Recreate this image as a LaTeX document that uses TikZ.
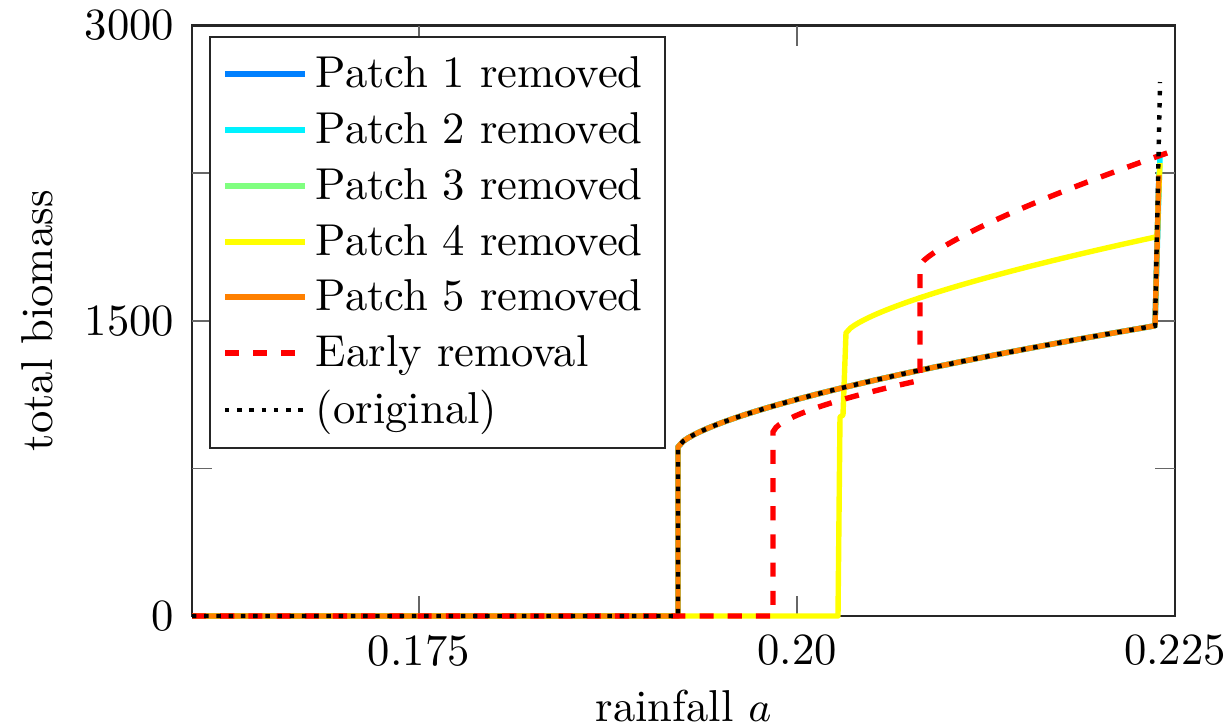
\documentclass[tikz,border=0pt]{standalone}
\definecolor{pblue}{rgb}{0,0.5,1}
\definecolor{pcyan}{rgb}{0,0.95,1}
\definecolor{pgreen}{rgb}{0.5,1,0.5}
\definecolor{pyellow}{rgb}{1,1,0}
\definecolor{porange}{rgb}{1,0.5,0}
\tikzset{
  curve/.style={line width=1.15pt, line join=round},
  earlycurve/.style={line width=1.15pt, red, dash pattern=on 3pt off 3pt},
  origcurve/.style={line width=0.95pt, black, dash pattern=on 0.95pt off 1.65pt},
  axisline/.style={line width=0.5pt, black!85},
  tickline/.style={line width=0.4pt, black!60},
  ticklabel/.style={inner sep=0pt},
  legendtext/.style={inner sep=0pt, anchor=base west},
}
\begin{document}
\begin{tikzpicture}[x=0.2128pt,y=-0.2128pt,font=\fontsize{9.5}{11.5}\selectfont]
\useasboundingbox (0,0) rectangle (1231,727);
% axis box
\draw[axisline] (192,25.5) rectangle (1175,616);
% ticks
\foreach \tx in {418.8,797} {
  \draw[tickline] (\tx,616) -- (\tx,596);
  \draw[tickline] (\tx,25.5) -- (\tx,45.5);
}
\foreach \ty in {173,320.75,468.5} {
  \draw[tickline] (192,\ty) -- (212,\ty);
  \draw[tickline] (1175,\ty) -- (1155,\ty);
}
% tick labels
\node[ticklabel, anchor=east] (y3000) at (175,25.5) {3000};
\node[ticklabel, anchor=east] (y1500) at (175,320.75) {1500};
\node[ticklabel, anchor=east] (y0) at (175,616) {0};
\node[ticklabel, anchor=north] (x175) at (418.8,634) {0.175};
\node[ticklabel, anchor=north] (x200) at (797,634) {0.20};
\node[ticklabel, anchor=north] (x225) at (1175,634) {0.225};
\node[inner sep=0pt, anchor=base] (xlab) at (683.5,721) {rainfall $a$};
\node[inner sep=0pt, anchor=base, rotate=90] (ylab) at (53,320.75) {total biomass};
% curves
\begin{scope}
\clip (190,15) rectangle (1180,623);
\draw[curve, pblue] (192,616) -- (678,616) -- (678,447) -- plot[domain=0.01:477,samples=90] ({678+\x},{447-1.91*\x^0.673}) -- (1159,172);
\draw[curve, pcyan] (192,616) -- (678,616) -- (678,447) -- plot[domain=0.01:477,samples=90] ({678+\x},{447-1.91*\x^0.673}) -- (1160,156);
\draw[curve, pgreen] (192,616) -- (678,616) -- (678,447) -- plot[domain=0.01:477,samples=90] ({678+\x},{447-1.91*\x^0.673}) -- (1159,172);
\draw[curve, pyellow] (192,616) -- (838,616) -- (840,417) -- (843,415) -- (846,333) -- plot[domain=0.01:311,samples=70] ({846+\x},{333-1.733*\x^0.7}) -- (1160,163);
\draw[curve, porange] (192,616) -- (678,616) -- (678,447) -- plot[domain=0.01:477,samples=90] ({678+\x},{447-1.91*\x^0.673}) -- (1159,175);
\draw[earlycurve] (192,616) -- (773,616) -- (773,432) -- plot[domain=0.01:147,samples=50] ({773+\x},{432-2.34*\x^0.62}) -- (920,265) -- plot[domain=0.01:255,samples=70] ({920+\x},{265-1.61*\x^0.77});
\draw[origcurve] (192,616) -- (678,616) -- (678,447) -- plot[domain=0.01:477,samples=90] ({678+\x},{447-1.91*\x^0.673}) -- (1160,82);
\end{scope}
% legend
\draw[axisline, fill=white] (210,37) rectangle (665,448);
\foreach \ly/\col/\txt/\nm in {74/pblue/Patch 1 removed/l1, 130/pcyan/Patch 2 removed/l2, 186/pgreen/Patch 3 removed/l3, 242/pyellow/Patch 4 removed/l4, 297/porange/Patch 5 removed/l5} {
  \draw[curve, \col] (225,\ly) -- (305,\ly);
  \node[legendtext] (\nm) at (315,\ly+13) {\txt};
}
\draw[earlycurve] (225,353) -- (305,353);
\node[legendtext] (l6) at (315,366) {Early removal};
\draw[origcurve] (225,410) -- (305,410);
\node[legendtext] (l7) at (315,423) {(original)};
\end{tikzpicture}
\end{document}
